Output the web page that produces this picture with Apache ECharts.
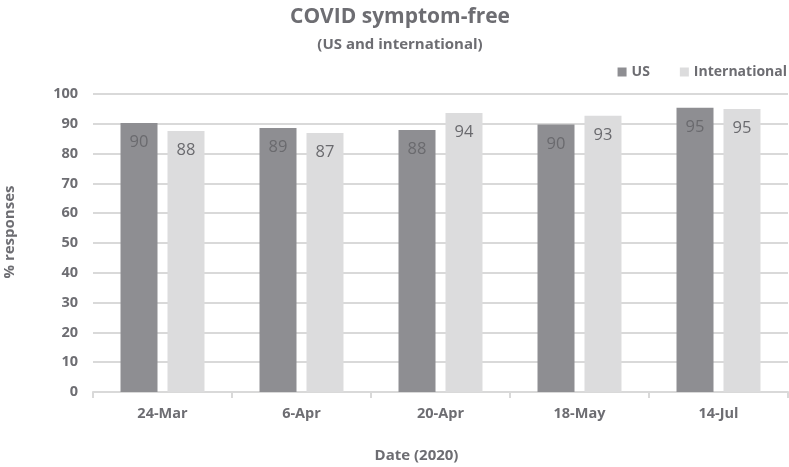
<!DOCTYPE html>
<html>
<head>
<meta charset="utf-8">
<script src="https://cdn.jsdelivr.net/npm/echarts@6/dist/echarts.min.js"></script>
<style>
  html, body { margin: 0; padding: 0; background: #fff; }
  #chart { width: 789px; height: 467px; }
</style>
</head>
<body>
<div id="chart"></div>
<script>
const categories = ["24-Mar", "6-Apr", "20-Apr", "18-May", "14-Jul"];
const usValues = [90.3, 88.6, 87.9, 89.8, 95.4];
const intlValues = [87.6, 86.9, 93.6, 92.7, 95.0];

const textColor = "#6d6d72";
const font = "'Open Sans', 'Liberation Sans', sans-serif";

const chart = echarts.init(document.getElementById("chart"));

// value labels sit inside the top of each bar
const barLabel = {
  show: true,
  position: "insideTop",
  distance: 11,
  color: "#6a6a6e",
  fontSize: 16.5,
  fontFamily: font,
  formatter: (p) => Math.round(p.value),
};

chart.setOption({
  animation: false,
  title: {
    text: "COVID symptom-free",
    subtext: "(US and international)",
    left: 395,
    textAlign: "center",
    top: 2,
    itemGap: 9,
    textStyle: { color: textColor, fontSize: 21, fontWeight: "bold", fontFamily: font },
    subtextStyle: { color: textColor, fontSize: 15, fontWeight: "bold", fontFamily: font },
  },
  legend: {
    data: ["US", "International"],
    right: -3,
    top: 60,
    itemWidth: 9,
    itemHeight: 9,
    itemGap: 30,
    itemStyle: { borderWidth: 0 },
    icon: "rect",
    textStyle: { color: textColor, fontSize: 14, fontWeight: "bold", fontFamily: font },
  },
  grid: { left: 93, right: 1, top: 94, bottom: 75, outerBoundsMode: "none" },
  xAxis: {
    type: "category",
    data: categories,
    name: "Date (2020)",
    nameLocation: "middle",
    nameGap: 56,
    nameTextStyle: {
      color: textColor, fontSize: 15, fontWeight: "bold", fontFamily: font,
      padding: [0, 48, 0, 0],
    },
    axisLine: { lineStyle: { color: "#d9d9d9", width: 2 } },
    axisTick: { show: true, length: 6, lineStyle: { color: "#d9d9d9", width: 2 } },
    axisLabel: { color: textColor, fontSize: 14.5, fontWeight: "bold", fontFamily: font, margin: 14 },
  },
  yAxis: {
    type: "value",
    min: 0,
    max: 100,
    interval: 10,
    name: "% responses",
    nameLocation: "middle",
    nameGap: 76,
    nameRotate: 90,
    nameTextStyle: {
      color: textColor, fontSize: 15, fontWeight: "bold", fontFamily: font,
      padding: [0, 0, 0, 22],
    },
    axisLine: { show: false },
    axisTick: { show: false },
    axisLabel: { color: textColor, fontSize: 14.5, fontWeight: "bold", fontFamily: font, margin: 15 },
    splitLine: { lineStyle: { color: "#d9d9d9", width: 2 } },
  },
  series: [
    {
      name: "US",
      type: "bar",
      data: usValues,
      barWidth: 37,
      barGap: "27%",
      itemStyle: { color: "#8e8e92" },
      label: barLabel,
    },
    {
      name: "International",
      type: "bar",
      data: intlValues,
      barWidth: 37,
      itemStyle: { color: "#dcdcdd" },
      label: barLabel,
    },
  ],
});
</script>
</body>
</html>
